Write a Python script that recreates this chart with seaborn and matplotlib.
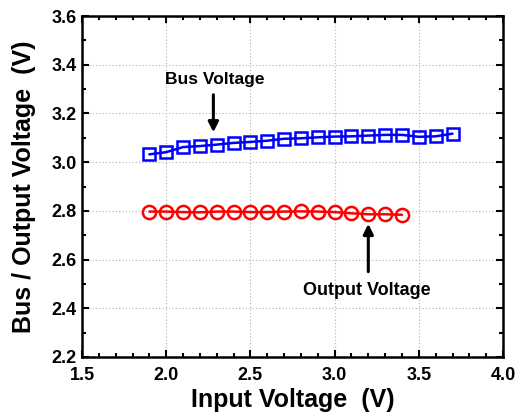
import matplotlib
matplotlib.use("Agg")
import matplotlib.pyplot as plt
import seaborn as sns
from matplotlib.ticker import MultipleLocator

bus_vin = [1.9, 2.0, 2.1, 2.2, 2.3, 2.4, 2.5, 2.6, 2.7, 2.8, 2.9, 3.0, 3.1, 3.2, 3.3, 3.4, 3.5, 3.6, 3.7]
bus_v = [3.032, 3.041, 3.062, 3.066, 3.072, 3.079, 3.083, 3.088, 3.096, 3.098, 3.102,
         3.105, 3.106, 3.109, 3.112, 3.112, 3.104, 3.106, 3.117]
out_vin = [1.9, 2.0, 2.1, 2.2, 2.3, 2.4, 2.5, 2.6, 2.7, 2.8, 2.9, 3.0, 3.1, 3.2, 3.3, 3.4]
out_v = [2.797, 2.797, 2.795, 2.794, 2.797, 2.797, 2.795, 2.795, 2.797, 2.798, 2.797,
         2.795, 2.790, 2.786, 2.786, 2.784]

sns.set_style("ticks")
plt.rcParams["font.family"] = ["Liberation Sans", "DejaVu Sans"]
plt.rcParams["font.weight"] = "bold"
plt.rcParams["text.color"] = "black"
plt.rcParams["axes.labelcolor"] = "black"
plt.rcParams["xtick.color"] = "black"
plt.rcParams["ytick.color"] = "black"

fig = plt.figure(figsize=(5.24, 4.17), dpi=100)
ax = fig.add_axes([0.1565, 0.1439, 0.8035, 0.8177])

sns.lineplot(x=bus_vin, y=bus_v, ax=ax, color="blue", marker="s", markersize=8.5,
             markerfacecolor="none", markeredgecolor="blue", markeredgewidth=1.8, linewidth=1.8)
sns.lineplot(x=out_vin, y=out_v, ax=ax, color="red", marker="o", markersize=9.5,
             markerfacecolor="none", markeredgecolor="red", markeredgewidth=1.8, linewidth=1.8)

ax.set_xlim(1.5, 4.0)
ax.set_ylim(2.2, 3.6)
ax.xaxis.set_major_locator(MultipleLocator(0.5))
ax.xaxis.set_minor_locator(MultipleLocator(0.1))
ax.yaxis.set_major_locator(MultipleLocator(0.2))
ax.yaxis.set_minor_locator(MultipleLocator(0.1))
ax.grid(True, which="major", color="#b0b0b0", linestyle=(0, (1, 2)), linewidth=0.8)
ax.tick_params(which="both", direction="in", top=True, right=True, width=1.5, labelsize=13,
               colors="black")
ax.tick_params(axis="x", which="major", pad=7)
ax.tick_params(axis="y", which="major", pad=4)
ax.tick_params(which="major", length=5)
ax.tick_params(which="minor", length=3)
for lbl in ax.get_xticklabels() + ax.get_yticklabels():
    lbl.set_fontweight("bold")
for spine in ax.spines.values():
    spine.set_linewidth(1.8)
    spine.set_color("black")

ax.set_xlabel("Input Voltage  (V)", fontsize=18, fontweight="bold", labelpad=3, color="black")
ax.set_ylabel("Bus / Output Voltage  (V)", fontsize=18, fontweight="bold", labelpad=11, color="black")

ax.annotate("", xy=(2.28, 3.111), xytext=(2.28, 3.288),
            arrowprops=dict(arrowstyle="-|>", color="black", lw=2.2, mutation_scale=15))
ax.text(2.29, 3.341, "Bus Voltage", ha="center", va="center", fontsize=12.5,
        fontweight="bold", color="black")
ax.annotate("", xy=(3.2, 2.758), xytext=(3.2, 2.539),
            arrowprops=dict(arrowstyle="-|>", color="black", lw=2.2, mutation_scale=15))
ax.text(3.19, 2.475, "Output Voltage", ha="center", va="center", fontsize=13,
        fontweight="bold", color="black")

fig.savefig("out.png", dpi=100)
